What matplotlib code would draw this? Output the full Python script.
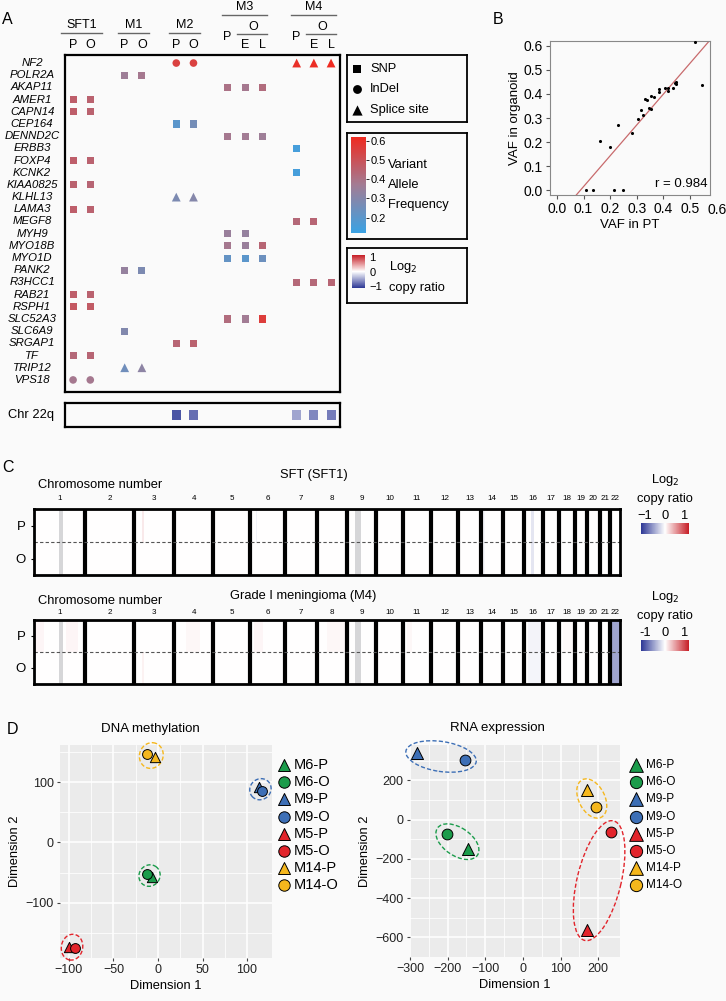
import numpy as np
import matplotlib.pyplot as plt
from matplotlib.colors import LinearSegmentedColormap, Normalize
from matplotlib.cm import ScalarMappable
from matplotlib.patches import Ellipse
from matplotlib.transforms import IdentityTransform

plt.rcParams['font.family'] = ['Liberation Sans', 'DejaVu Sans']

# ---------------- data: panel A (variants) ----------------
genes = ['NF2', 'POLR2A', 'AKAP11', 'AMER1', 'CAPN14', 'CEP164', 'DENND2C', 'ERBB3',
         'FOXP4', 'KCNK2', 'KIAA0825', 'KLHL13', 'LAMA3', 'MEGF8', 'MYH9', 'MYO18B',
         'MYO1D', 'PANK2', 'R3HCC1', 'RAB21', 'RSPH1', 'SLC52A3', 'SLC6A9', 'SRGAP1',
         'TF', 'TRIP12', 'VPS18']
groups = ['SFT1', 'M1', 'M2', 'M3', 'M4']
group_samples = [['P', 'O'], ['P', 'O'], ['P', 'O'], ['P', 'E', 'L'], ['P', 'E', 'L']]

mut_gene = ['NF2', 'NF2', 'NF2', 'NF2', 'NF2',
            'POLR2A', 'POLR2A',
            'AKAP11', 'AKAP11', 'AKAP11',
            'AMER1', 'AMER1', 'CAPN14', 'CAPN14',
            'CEP164', 'CEP164',
            'DENND2C', 'DENND2C', 'DENND2C',
            'ERBB3', 'FOXP4', 'FOXP4', 'KCNK2', 'KIAA0825', 'KIAA0825',
            'KLHL13', 'KLHL13', 'LAMA3', 'LAMA3', 'MEGF8', 'MEGF8',
            'MYH9', 'MYH9', 'MYO18B', 'MYO18B', 'MYO18B', 'MYO1D', 'MYO1D', 'MYO1D',
            'PANK2', 'PANK2', 'R3HCC1', 'R3HCC1', 'R3HCC1',
            'RAB21', 'RAB21', 'RSPH1', 'RSPH1',
            'SLC52A3', 'SLC52A3', 'SLC52A3', 'SLC6A9', 'SRGAP1', 'SRGAP1',
            'TF', 'TF', 'TRIP12', 'TRIP12', 'VPS18', 'VPS18']
mut_col = ['M2-P', 'M2-O', 'M4-P', 'M4-E', 'M4-L',
           'M1-P', 'M1-O',
           'M3-P', 'M3-E', 'M3-L',
           'SFT1-P', 'SFT1-O', 'SFT1-P', 'SFT1-O',
           'M2-P', 'M2-O',
           'M3-P', 'M3-E', 'M3-L',
           'M4-P', 'SFT1-P', 'SFT1-O', 'M4-P', 'SFT1-P', 'SFT1-O',
           'M2-P', 'M2-O', 'SFT1-P', 'SFT1-O', 'M4-P', 'M4-E',
           'M3-P', 'M3-E', 'M3-P', 'M3-E', 'M3-L', 'M3-P', 'M3-E', 'M3-L',
           'M1-P', 'M1-O', 'M4-P', 'M4-E', 'M4-L',
           'SFT1-P', 'SFT1-O', 'SFT1-P', 'SFT1-O',
           'M3-P', 'M3-E', 'M3-L', 'M1-P', 'M2-P', 'M2-O',
           'SFT1-P', 'SFT1-O', 'M1-P', 'M1-O', 'SFT1-P', 'SFT1-O']
mut_type = ['InDel', 'InDel', 'Splice site', 'Splice site', 'Splice site',
            'SNP', 'SNP', 'SNP', 'SNP', 'SNP',
            'SNP', 'SNP', 'SNP', 'SNP', 'SNP', 'SNP',
            'SNP', 'SNP', 'SNP',
            'SNP', 'SNP', 'SNP', 'SNP', 'SNP', 'SNP',
            'Splice site', 'Splice site', 'SNP', 'SNP', 'SNP', 'SNP',
            'SNP', 'SNP', 'SNP', 'SNP', 'SNP', 'SNP', 'SNP', 'SNP',
            'SNP', 'SNP', 'SNP', 'SNP', 'SNP',
            'SNP', 'SNP', 'SNP', 'SNP',
            'SNP', 'SNP', 'SNP', 'SNP', 'SNP', 'SNP',
            'SNP', 'SNP', 'Splice site', 'Splice site', 'InDel', 'InDel']
mut_vaf = [0.55, 0.55, 0.60, 0.61, 0.62,
           0.36, 0.38,
           0.40, 0.38, 0.42,
           0.46, 0.45, 0.46, 0.45,
           0.20, 0.26,
           0.38, 0.37, 0.36,
           0.15, 0.46, 0.45, 0.15, 0.45, 0.44,
           0.28, 0.30, 0.46, 0.45, 0.43, 0.44,
           0.35, 0.34, 0.38, 0.35, 0.44, 0.22, 0.20, 0.24,
           0.34, 0.28, 0.43, 0.43, 0.44,
           0.46, 0.45, 0.48, 0.47,
           0.42, 0.37, 0.56, 0.29, 0.44, 0.45,
           0.43, 0.44, 0.25, 0.32, 0.38, 0.38]

cn22_col = ['M2-P', 'M2-O', 'M4-P', 'M4-E', 'M4-L']
cn22_val = [-0.85, -0.72, -0.45, -0.6, -0.65]

# ---------------- data: panel B ----------------
vaf_pt = [0.519, 0.544, 0.160, 0.231, 0.200, 0.281, 0.306, 0.315, 0.325, 0.331,
          0.340, 0.344, 0.353, 0.353, 0.364, 0.385, 0.385, 0.406, 0.416, 0.419,
          0.435, 0.444, 0.448, 0.448, 0.108, 0.134, 0.213, 0.250]
vaf_org = [0.614, 0.436, 0.206, 0.271, 0.178, 0.239, 0.294, 0.335, 0.312, 0.378,
           0.375, 0.340, 0.338, 0.393, 0.386, 0.421, 0.410, 0.426, 0.414, 0.426,
           0.424, 0.444, 0.451, 0.440, 0.0, 0.0, 0.0, 0.0]

# ---------------- data: panel C (copy number) ----------------
chr_len = [249.3, 243.2, 198.0, 191.2, 180.9, 171.1, 159.1, 146.4, 141.2, 135.5, 135.0,
           133.9, 115.2, 107.3, 102.5, 90.4, 81.2, 78.1, 59.1, 63.0, 48.1, 51.3]
# segments: chromosome, start (Mb), end (Mb), log2 in P, log2 in O (nan = no data)
sft_chr = [1, 3, 6, 9, 14, 16]
sft_start = [121, 40, 28, 40, 0, 34]
sft_end = [143, 47, 34, 68, 19, 46]
sft_p = [np.nan, 0.1, -0.07, np.nan, -0.04, -0.13]
sft_o = [np.nan, 0.0, 0.0, np.nan, -0.04, -0.13]

m4_chr = [1, 1, 1, 3, 4, 6, 8, 9, 11, 16, 18, 19, 22]
m4_start = [121, 3, 155, 40, 55, 20, 50, 40, 20, 20, 20, 8, 0]
m4_end = [143, 50, 215, 47, 128, 64, 138, 68, 44, 80, 70, 12, 52]
m4_p = [np.nan, 0.04, 0.04, 0.0, 0.035, 0.04, 0.035, np.nan, 0.035, -0.06, 0.03, 0.08, -0.45]
m4_o = [np.nan, 0.0, 0.0, 0.06, 0.0, 0.0, 0.0, np.nan, 0.0, -0.05, 0.0, 0.45, -0.45]

# ---------------- data: panel D ----------------
samples = ['M6-P', 'M6-O', 'M9-P', 'M9-O', 'M5-P', 'M5-O', 'M14-P', 'M14-O']
dna_x = [-7, -12, 113, 117, -100, -93, -3, -12]
dna_y = [-58, -52, 92, 85, -173, -175, 142, 147]
rna_x = [-145, -203, -282, -153, 171, 234, 171, 195]
rna_y = [-150, -75, 340, 303, -561, -61, 153, 62]

case_colors = {'M6': '#1b9c4b', 'M9': '#3d6fb6', 'M5': '#e2242b', 'M14': '#f5b71d'}

# ---------------- figure helpers ----------------
W, H = 726, 1001
fig = plt.figure(figsize=(W / 100, H / 100), dpi=100)
fig.patch.set_facecolor('#fafafa')


def px_axes(l, t, r, b):
    return fig.add_axes([l / W, 1 - b / H, (r - l) / W, (b - t) / H])


def px_text(x, y, s, **kw):
    kw.setdefault('va', 'center')
    return fig.text(x / W, 1 - y / H, s, **kw)


vaf_cmap = LinearSegmentedColormap.from_list('vaf', ['#3aa2e4', '#a27c94', '#ef2a20'])
cn_cmap = LinearSegmentedColormap.from_list('cn', ['#2c3795', '#ffffff', '#c61d25'])
cn_cmap.set_bad('#d6d6d8')
FS = 9.3

# panel letters
px_text(7, 19, 'A', fontsize=11.5, ha='center')
px_text(498, 19, 'B', fontsize=11.5, ha='center')
px_text(8, 468, 'C', fontsize=11.5, ha='center')
px_text(13, 730, 'D', fontsize=11.5, ha='center')

# ================= Panel A =================
col_keys, col_x = [], []
pos = 0
for g, ss in zip(groups, group_samples):
    for s in ss:
        col_keys.append(g + '-' + s)
        col_x.append(pos)
        pos += 1
    pos += 1
xpos = dict(zip(col_keys, col_x))

axA = px_axes(65, 55, 340, 392)
axA.set_facecolor('none')
axA.set_xlim(-0.47, 15.52)
axA.set_ylim(26.99, -0.66)
axA.set_xticks([])
axA.set_yticks([])
for sp in axA.spines.values():
    sp.set_linewidth(1.6)

gidx = {g: i for i, g in enumerate(genes)}
mx = np.array([xpos[k] for k in mut_col])
my = np.array([gidx[g] for g in mut_gene])
mv = np.array(mut_vaf)
mt = np.array(mut_type)
shapes = {'SNP': ('s', 26), 'InDel': ('o', 30), 'Splice site': ('^', 40)}
for t, (m, s) in shapes.items():
    sel = mt == t
    axA.scatter(mx[sel], my[sel], marker=m, s=s, c=mv[sel], cmap=vaf_cmap,
                vmin=0.12, vmax=0.62, linewidths=0)

for i, g in enumerate(genes):
    axA.text(-2.38, i, g, style='italic', fontsize=8.2, ha='center', va='center',
             clip_on=False)

hdr = dict(fontsize=9, ha='center', va='center', clip_on=False)
lcol = '#666666'
for g, ss in zip(groups, group_samples):
    xs = [xpos[g + '-' + s] for s in ss]
    if len(ss) == 2:
        pad = 0.7 if g == 'SFT1' else 0.4
        axA.text(np.mean(xs), -3.12, g, **hdr)
        axA.plot([xs[0] - pad, xs[-1] + pad], [-2.46, -2.46], color=lcol, lw=1, clip_on=False)
        for x, s in zip(xs, ss):
            axA.text(x, -1.48, s, **hdr)
    else:
        axA.text(np.mean(xs), -4.6, g, **hdr)
        axA.plot([xs[0] - 0.32, xs[-1] + 0.3], [-3.94, -3.94], color=lcol, lw=1, clip_on=False)
        axA.text(xs[0] - 0.05, -2.13, ss[0], **hdr)
        axA.text(np.mean(xs[1:]), -2.95, 'O', **hdr)
        axA.plot([xs[1] - 0.45, xs[-1] + 0.3], [-2.38, -2.38], color=lcol, lw=1, clip_on=False)
        for x, s in zip(xs[1:], ss[1:]):
            axA.text(x, -1.48, s, **hdr)

# chr 22q row
ax22 = px_axes(65, 403, 340, 427)
ax22.set_facecolor('none')
ax22.set_xlim(-0.47, 15.52)
ax22.set_ylim(-0.5, 0.5)
ax22.set_xticks([])
ax22.set_yticks([])
for sp in ax22.spines.values():
    sp.set_linewidth(1.6)
ax22.scatter([xpos[k] for k in cn22_col], np.zeros(len(cn22_col)), marker='s', s=42,
             c=cn22_val, cmap=cn_cmap, vmin=-1, vmax=1, linewidths=0)
ax22.text(-2.45, 0, 'Chr 22q', fontsize=9.3, ha='center', va='center', clip_on=False)

# legend box: variant type
axL = px_axes(347, 55, 467, 122)
axL.set_xlim(0, 120)
axL.set_ylim(67, 0)
axL.set_xticks([])
axL.set_yticks([])
axL.set_facecolor('none')
for sp in axL.spines.values():
    sp.set_linewidth(1.3)
for yy, (t, (m, s)) in zip([14, 34, 55], shapes.items()):
    axL.scatter([10], [yy], marker=m, s=s * 1.35, color='black', linewidths=0)
    axL.text(23, yy, t, fontsize=9.3, va='center')

# legend box: VAF
axV = px_axes(347, 133, 467, 239)
axV.set_xticks([])
axV.set_yticks([])
axV.set_facecolor('none')
for sp in axV.spines.values():
    sp.set_linewidth(1.3)
caxV = px_axes(351, 137, 366, 233)
cbV = fig.colorbar(ScalarMappable(Normalize(0.12, 0.62), vaf_cmap), cax=caxV)
cbV.set_ticks([0.2, 0.3, 0.4, 0.5, 0.6])
cbV.outline.set_visible(False)
caxV.tick_params(labelsize=8, length=2, pad=1, width=0.6)
px_text(388, 165, 'Variant', fontsize=FS)
px_text(388, 185, 'Allele', fontsize=FS)
px_text(388, 205, 'Frequency', fontsize=FS)

# legend box: log2 copy ratio
axC0 = px_axes(347, 248, 467, 303)
axC0.set_xticks([])
axC0.set_yticks([])
axC0.set_facecolor('none')
for sp in axC0.spines.values():
    sp.set_linewidth(1.3)
caxA = px_axes(352, 255, 365, 288)
cbA = fig.colorbar(ScalarMappable(Normalize(-1.15, 1.15), cn_cmap), cax=caxA)
cbA.set_ticks([-1, 0, 1])
cbA.set_ticklabels(['\u22121', '0', '1'])
cbA.outline.set_visible(False)
caxA.tick_params(labelsize=8, length=0, pad=3)
px_text(389, 267, 'Log$_2$', fontsize=FS)
px_text(389, 288, 'copy ratio', fontsize=FS)

# ================= Panel B =================
axB = px_axes(550, 41, 710, 195)
pt = np.array(vaf_pt)
org = np.array(vaf_org)
slope, icpt = np.polyfit(pt, org, 1)
axB.set_xlim(-0.026, 0.575)
axB.set_ylim(-0.02, 0.62)
xl = np.array(axB.get_xlim())
axB.plot(xl, slope * xl + icpt, color='#c86a6c', lw=0.9)
axB.scatter(pt, org, s=5, color='black', linewidths=0, zorder=3)
axB.set_xticks([0.0, 0.1, 0.2, 0.3, 0.4, 0.5])
axB.set_xticklabels(['0.0', '0.1', '0.2', '0.3', '0.4', '0.5'])
axB.set_yticks([0.0, 0.1, 0.2, 0.3, 0.4, 0.5, 0.6])
axB.set_yticklabels(['0.0', '0.1', '0.2', '0.3', '0.4', '0.5', '0.6'])
axB.tick_params(labelsize=10, length=3, pad=2, color='#555555')
axB.text(0.6, -0.055, '0.6', transform=axB.get_xaxis_transform(), fontsize=10,
         ha='center', va='top', clip_on=False)
for sp in axB.spines.values():
    sp.set_color('#888888')
    sp.set_linewidth(0.8)
axB.set_facecolor('none')
axB.set_xlabel('VAF in PT', fontsize=9.5, labelpad=2)
axB.set_ylabel('VAF in organoid', fontsize=9.5, labelpad=2)
axB.text(0.37, 0.025, 'r = 0.984', fontsize=9.5, va='center')

# ================= Panel C =================
chr_start = np.concatenate([[0], np.cumsum(chr_len)[:-1]])
genome = float(np.sum(chr_len))


def cn_matrix(s_chr, s_start, s_end, s_p, s_o):
    edges, vals = [], []
    for c, L in enumerate(chr_len):
        e = np.append(np.arange(0, L, 1.0), L)
        mids = (e[:-1] + e[1:]) / 2
        v = np.zeros((2, len(mids)))
        for ch, a, b, vp, vo in zip(s_chr, s_start, s_end, s_p, s_o):
            if ch == c + 1:
                sel = (mids >= a) & (mids < b)
                v[0, sel] = vp
                v[1, sel] = vo
        edges.append(e[:-1] + chr_start[c])
        vals.append(v)
    edges.append([genome])
    return np.concatenate(edges), np.hstack(vals)


def cn_panel(top, bottom, title, title_x, title_y, lab_y, num_y, segs, cb_y, minus):
    ax = px_axes(34, top, 620, bottom)
    xe, vals = cn_matrix(*segs)
    ax.pcolormesh(xe, [0, 1, 2], np.ma.masked_invalid(vals), cmap=cn_cmap,
                  vmin=-1, vmax=1, shading='flat')
    ax.set_xlim(0, genome)
    ax.set_ylim(2, 0)
    for b in chr_start[1:]:
        ax.axvline(b, color='black', lw=3)
    ax.axhline(1, color='#555555', lw=0.8, ls=(0, (3, 2)))
    ax.set_xticks([])
    ax.set_yticks([0.5, 1.5])
    ax.set_yticklabels(['P', 'O'])
    ax.tick_params(axis='y', labelsize=9.5, length=2, pad=4)
    for sp in ax.spines.values():
        sp.set_linewidth(2)
    ht = bottom - top
    for c, L in enumerate(chr_len):
        ax.text(chr_start[c] + L / 2, 1 + (top - num_y) / ht, str(c + 1), fontsize=5.8,
                ha='center', va='center', transform=ax.get_xaxis_transform())
    px_text(38, lab_y, 'Chromosome number', fontsize=FS, ha='left')
    px_text(title_x, title_y, title, fontsize=FS, ha='center')
    # colour key
    px_text(665, cb_y - 43, 'Log$_2$', fontsize=FS, ha='center')
    px_text(665, cb_y - 24, 'copy ratio', fontsize=FS, ha='center')
    cax = px_axes(641, cb_y, 689, cb_y + 11)
    cb = fig.colorbar(ScalarMappable(Normalize(-1.2, 1.2), cn_cmap), cax=cax,
                      orientation='horizontal')
    cb.outline.set_visible(False)
    cb.set_ticks([-1, 0, 1])
    cb.set_ticklabels([minus, '0', '1'])
    cax.xaxis.set_ticks_position('top')
    cax.tick_params(labelsize=FS, length=0, pad=1)


cn_panel(509, 575, 'SFT (SFT1)', 314, 475, 485, 499,
         (sft_chr, sft_start, sft_end, sft_p, sft_o), 523, '\u22121')
cn_panel(620, 684, 'Grade I meningioma (M4)', 303, 596, 601, 612,
         (m4_chr, m4_start, m4_end, m4_p, m4_o), 640, '-1')

# ================= Panel D =================
ell_minor_dna = [22, 22, 26, 26]
ell_minor_rna = [28, 30, 44, 26]


def add_group_ellipse(ax, p1, p2, pad, minor, color):
    a = ax.transData.transform(p1)
    b = ax.transData.transform(p2)
    c = (a + b) / 2
    d = np.hypot(*(b - a))
    ang = np.degrees(np.arctan2(b[1] - a[1], b[0] - a[0]))
    e = Ellipse(c, d + pad, minor, angle=ang, transform=IdentityTransform(),
                fill=False, ls=(0, (3, 1.6)), lw=1.0, edgecolor=color,
                clip_on=False, zorder=2)
    ax.add_artist(e)


def pca_panel(box, xs, ys, xlim, ylim, xmaj, ymaj, title, title_xy, pad, minors,
              s_tri, s_circ, leg_x, leg_fs, leg_scale):
    ax = px_axes(*box)
    ax.set_facecolor('#ebebeb')
    ax.set_xlim(*xlim)
    ax.set_ylim(*ylim)
    ax.set_autoscale_on(False)
    ax.set_xticks(xmaj)
    ax.set_yticks(ymaj)
    ax.set_xticks((np.array(xmaj[:-1]) + np.array(xmaj[1:])) / 2, minor=True)
    ym = list((np.array(ymaj[:-1]) + np.array(ymaj[1:])) / 2)
    step = ymaj[1] - ymaj[0]
    ym = [ymaj[0] - step / 2] + ym + [ymaj[-1] + step / 2]
    ax.set_yticks(ym, minor=True)
    ax.set_xticklabels([str(v).replace('-', '\u2212') for v in xmaj])
    ax.set_yticklabels([str(v).replace('-', '\u2212') for v in ymaj])
    ax.grid(which='major', color='white', lw=1.1)
    ax.grid(which='minor', color='white', lw=0.55)
    ax.set_axisbelow(True)
    for sp in ax.spines.values():
        sp.set_visible(False)
    ax.tick_params(which='major', labelsize=9, length=2.5, color='#444444',
                   labelcolor='#222222', pad=2)
    ax.tick_params(which='minor', length=0)
    ax.set_xlabel('Dimension 1', fontsize=FS, labelpad=3)
    ax.set_ylabel('Dimension 2', fontsize=FS, labelpad=3)
    px_text(title_xy[0], title_xy[1], title, fontsize=9.5, ha='center')
    for k in range(0, len(samples), 2):
        case = samples[k].split('-')[0]
        add_group_ellipse(ax, (xs[k], ys[k]), (xs[k + 1], ys[k + 1]), pad,
                          minors[k // 2], case_colors[case])
    for k, smp in enumerate(samples):
        case, kind = smp.split('-')
        m, s = ('^', s_tri) if kind == 'P' else ('o', s_circ)
        ax.scatter([xs[k]], [ys[k]], marker=m, s=s, color=case_colors[case],
                   edgecolor='black', linewidths=0.7, zorder=3)
    # legend
    axl = px_axes(leg_x - 10, 755, leg_x + 60, 895)
    axl.set_xlim(leg_x - 10, leg_x + 60)
    axl.set_ylim(895, 755)
    axl.axis('off')
    for k, smp in enumerate(samples):
        case, kind = smp.split('-')
        yy = 765 + 17.2 * k
        m, s = ('^', s_tri) if kind == 'P' else ('o', s_circ)
        axl.scatter([leg_x], [yy], marker=m, s=s * leg_scale, color=case_colors[case],
                    edgecolor='black', linewidths=0.7, clip_on=False)
        axl.text(leg_x + 10, yy, smp, fontsize=leg_fs, va='center', ha='left')
    return ax


pca_panel((60, 745, 272, 958), dna_x, dna_y, (-110, 128), (-192, 162),
          [-100, -50, 0, 50, 100], [-100, 0, 100], 'DNA methylation', (150, 729),
          15, ell_minor_dna, 55, 50, 284, 10.5, 1.35)
pca_panel((410, 745, 620, 957), rna_x, rna_y, (-300, 258), (-606, 380),
          [-300, -200, -100, 0, 100, 200], [-600, -400, -200, 0, 200], 'RNA expression',
          (497, 728), 22, ell_minor_rna, 75, 60, 636, 8.5, 1.3)

fig.savefig('out.png', dpi=100, facecolor=fig.get_facecolor())
